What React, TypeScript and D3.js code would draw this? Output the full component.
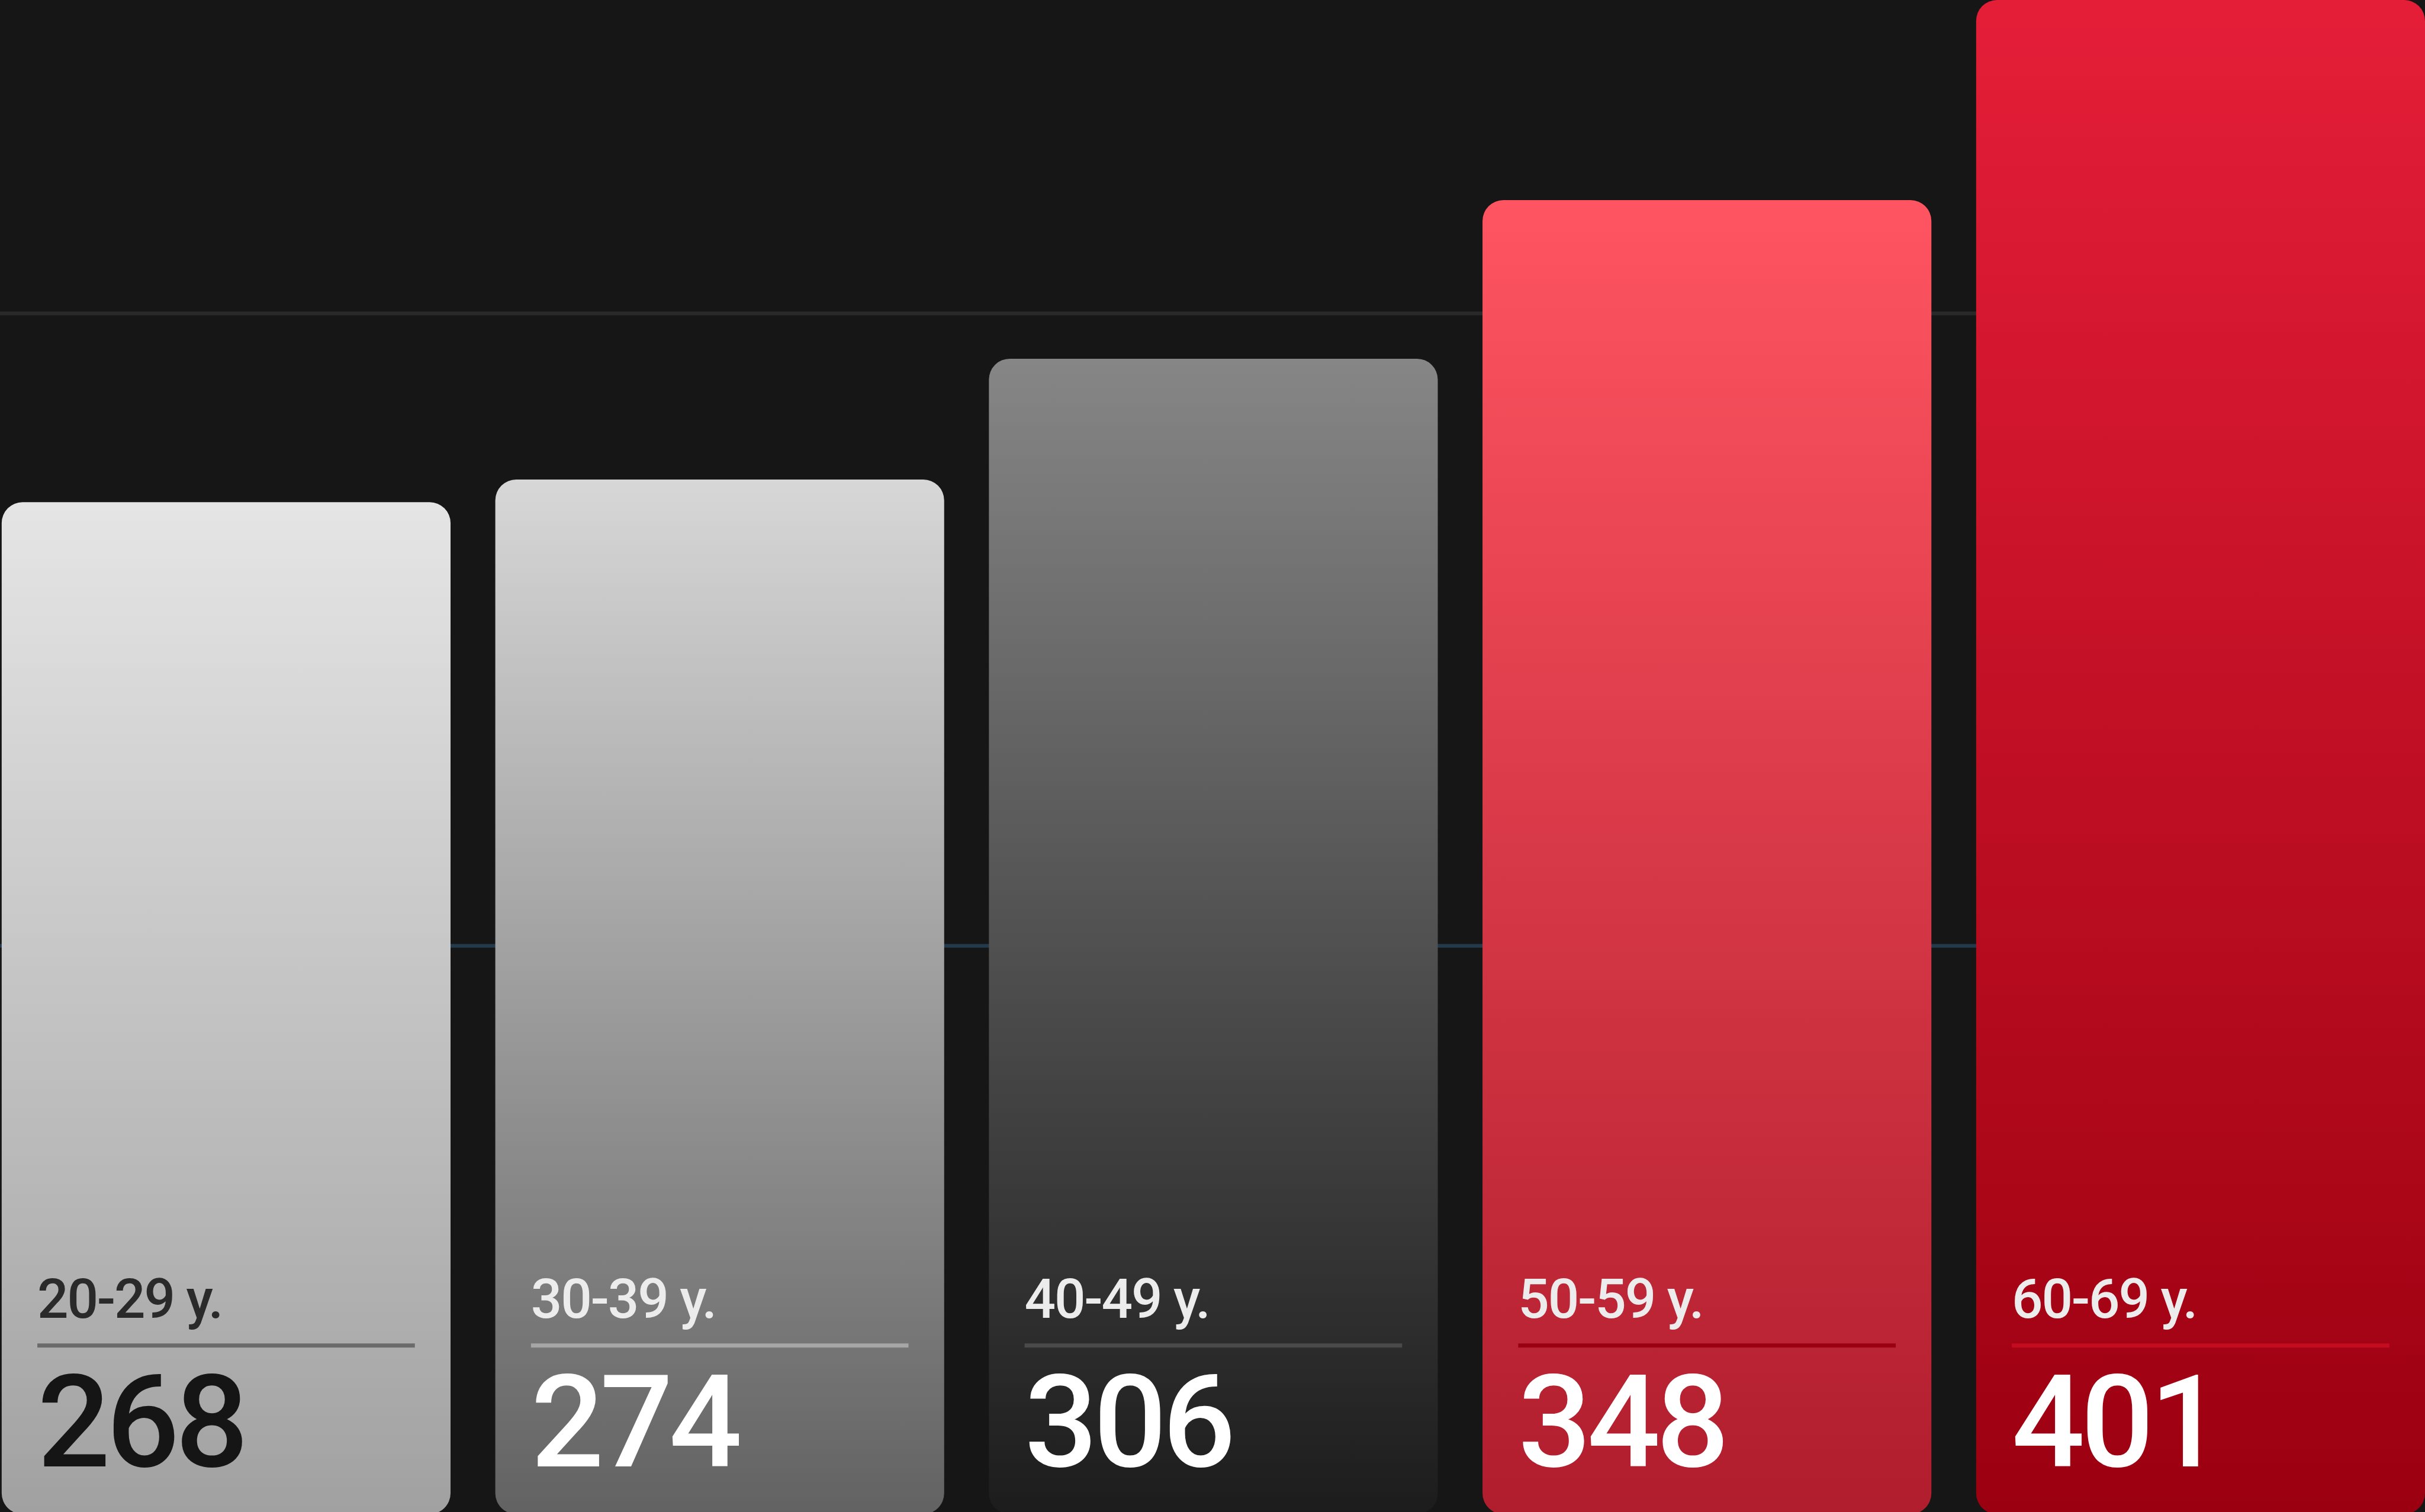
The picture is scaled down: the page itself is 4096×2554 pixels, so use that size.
import React from "react";
import * as d3 from "d3";

const categories = ["20-29 y.", "30-39 y.", "40-49 y.", "50-59 y.", "60-69 y."];
const values = [268, 274, 306, 348, 401];
const gridValues = [150.5, 318];
const gridColors = ["#233a4d", "#2a2a2a"];
const gradTop = ["#e5e5e5", "#d7d7d7", "#868686", "#ff5461", "#e51e38"];
const gradBottom = ["#a1a1a1", "#626262", "#1c1c1c", "#b01d2d", "#9b0010"];
const labelColors = ["#2a2a2a", "#ececec", "#ececec", "#ececec", "#ececec"];
const numberColors = ["#151515", "#ffffff", "#ffffff", "#ffffff", "#ffffff"];
const ruleColors = ["#6b6b6b", "#a6a6a6", "#4a4a4a", "#9a0010", "#c40c20"];

const W = 4096;
const H = 2554;
const s = W / 7207;

function roundedRect(x: number, y: number, w: number, h: number, r: number) {
  const p = d3.path();
  p.moveTo(x + r, y);
  p.lineTo(x + w - r, y);
  p.arcTo(x + w, y, x + w, y + r, r);
  p.lineTo(x + w, y + h - r);
  p.arcTo(x + w, y + h, x + w - r, y + h, r);
  p.lineTo(x + r, y + h);
  p.arcTo(x, y + h, x, y + h - r, r);
  p.lineTo(x, y + r);
  p.arcTo(x, y, x + r, y, r);
  p.closePath();
  return p.toString();
}

export default function App() {
  const x = d3
    .scaleBand<string>()
    .domain(categories)
    .range([5 * s, 7207 * s])
    .paddingInner(133 / 1467)
    .paddingOuter(0);
  const y = d3.scaleLinear().domain([0, 401]).range([4500 * s, 0]);
  const bw = x.bandwidth();
  const r = 62 * s;
  const inset = 106 * s;
  const font = "Roboto, 'Liberation Sans', Arial, sans-serif";

  return (
    <svg
      width={W}
      height={H}
      viewBox={`0 0 ${W} ${H}`}
      style={{ position: "absolute", left: 0, top: 0, display: "block" }}
    >
      <defs>
        {categories.map((c, i) => (
          <linearGradient key={c} id={`g${i}`} x1="0" y1="0" x2="0" y2="1">
            <stop offset="0" stopColor={gradTop[i]} />
            <stop offset="1" stopColor={gradBottom[i]} />
          </linearGradient>
        ))}
      </defs>
      <rect x={0} y={0} width={W} height={H} fill="#161616" />
      {gridValues.map((v, i) => (
        <line
          key={v}
          x1={0}
          x2={W}
          y1={y(v)}
          y2={y(v)}
          stroke={gridColors[i]}
          strokeWidth={11 * s}
        />
      ))}
      {categories.map((c, i) => {
        const x0 = x(c) as number;
        const top = y(values[i]);
        const bottom = y(0);
        return (
          <g key={c}>
            <path d={roundedRect(x0, top, bw, bottom - top, r)} fill={`url(#g${i})`} />
            <text
              x={x0 + inset}
              y={3917.5 * s}
              fill={labelColors[i]}
              fontFamily={font}
              fontWeight={500}
              fontSize={163 * s}
              letterSpacing={-4 * s}
            >
              {c}
            </text>
            <line
              x1={x0 + inset}
              x2={x0 + bw - inset}
              y1={3999 * s}
              y2={3999 * s}
              stroke={ruleColors[i]}
              strokeWidth={12 * s}
            />
            <text
              x={x0 + inset}
              y={4357.6 * s}
              fill={numberColors[i]}
              fontFamily={font}
              fontWeight={500}
              fontSize={382 * s}
              letterSpacing={-12 * s}
            >
              {values[i]}
            </text>
          </g>
        );
      })}
    </svg>
  );
}
